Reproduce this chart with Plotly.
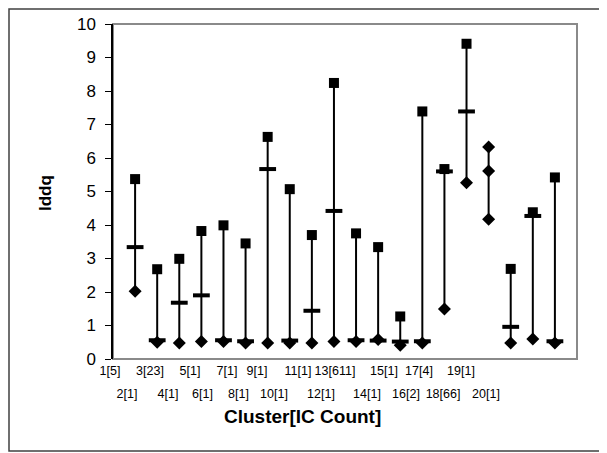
import plotly.graph_objects as go

clusters = list(range(1, 21))
tick_labels = ["1[5]", "2[1]", "3[23]", "4[1]", "5[1]", "6[1]", "7[1]", "8[1]", "9[1]", "10[1]",
               "11[1]", "12[1]", "13[611]", "14[1]", "15[1]", "16[2]", "17[4]", "18[66]", "19[1]", "20[1]"]
iddq_high = [5.37, 2.68, 2.99, 3.82, 3.99, 3.45, 6.63, 5.07, 3.70, 8.24,
             3.75, 3.34, 1.27, 7.39, 5.67, 9.41, 6.33, 2.69, 4.38, 5.42]
iddq_mid = [3.34, 0.56, 1.68, 1.90, 0.56, 0.53, 5.67, 0.55, 1.44, 4.42,
            0.56, 0.55, 0.52, 0.53, 5.60, 7.39, 5.61, 0.96, 4.27, 0.53]
iddq_low = [2.02, 0.50, 0.48, 0.52, 0.52, 0.48, 0.48, 0.48, 0.48, 0.52,
            0.52, 0.58, 0.41, 0.48, 1.49, 5.26, 4.17, 0.48, 0.60, 0.48]

FONT = "Arial, Liberation Sans, sans-serif"

# styles
high_sym = ["square"] * 20
mid_sym = ["line-ew"] * 20
high_sym[16] = "diamond"
mid_sym[16] = "diamond"
mid_size = [12 if s == "line-ew" else 10 for s in mid_sym]
mid_lw = [4 if s == "line-ew" else 0 for s in mid_sym]

# layout: horizontal pixel centres of the staggered category labels (reference page px)
label_px = [110, 127, 150, 168, 190, 202.5, 227, 238.5, 257, 274,
            298, 321, 335, 367, 384, 406, 419, 443, 461, 486]

# high-low connecting lines built from the data
lx, ly = [], []
for c, h, m, l in zip(clusters, iddq_high, iddq_mid, iddq_low):
    lx += [c, c, None]
    ly += [min(h, m, l), max(h, m, l), None]

fig = go.Figure()
fig.add_trace(go.Scatter(x=lx, y=ly, mode="lines", line=dict(color="black", width=2),
                         hoverinfo="skip", showlegend=False))
fig.add_trace(go.Scatter(x=clusters, y=iddq_low, mode="markers", showlegend=False,
                         marker=dict(symbol="diamond", size=10, color="black", opacity=1)))
fig.add_trace(go.Scatter(x=clusters, y=iddq_high, mode="markers", showlegend=False,
                         marker=dict(symbol=high_sym, size=10, color="black", opacity=1)))
fig.add_trace(go.Scatter(x=clusters, y=iddq_mid, mode="markers", showlegend=False,
                         marker=dict(symbol=mid_sym, size=mid_size, color="black", opacity=1,
                                     line=dict(color="black", width=mid_lw))))
# invisible traces to create the label axes subplots
fig.add_trace(go.Scatter(x=[None], y=[None], xaxis="x2", yaxis="y", showlegend=False, hoverinfo="skip"))
fig.add_trace(go.Scatter(x=[None], y=[None], xaxis="x3", yaxis="y", showlegend=False, hoverinfo="skip"))

# pixel geometry (reference coordinates; page places the figure 8px in)
OFF = 8
W, H = 607, 453
plot_left, plot_right, plot_top, plot_bottom = 113, 577, 24, 359  # reference px
paper_left = 90  # reference px
ml = paper_left - OFF
mr = W - (plot_right - OFF)
mt = plot_top - OFF
mb = H - (plot_bottom - OFF)
pw = W - ml - mr
ph = H - mt - mb
dom0 = (plot_left - paper_left) / pw


def px_x(p):
    return (p - paper_left) / pw


def px_y(p):
    return (plot_bottom - p) / ph


odd_idx = [i for i, c in enumerate(clusters) if c % 2 == 1]
even_idx = [i for i, c in enumerate(clusters) if c % 2 == 0]

label_axis = dict(domain=[0, 1], anchor="y", range=[paper_left, plot_right], automargin=False,
                  tickfont=dict(size=12.5, family=FONT), ticks="", showgrid=False,
                  zeroline=False, showline=False)

fig.update_layout(
    width=W, height=H,
    margin=dict(l=ml, r=mr, t=mt, b=mb, autoexpand=False),
    paper_bgcolor="white", plot_bgcolor="rgba(0,0,0,0)",
    font=dict(family=FONT, color="black"),
    xaxis=dict(domain=[dom0, 1], range=[0, 21], showticklabels=False, ticks="", automargin=False,
               showgrid=False, zeroline=False, showline=False),
    yaxis=dict(range=[0, 10], dtick=1, ticks="outside", ticklen=6, tickwidth=1, tickcolor="black",
               showgrid=False, zeroline=False, showline=True, linecolor="black", linewidth=1.5,
               tickfont=dict(size=17, family=FONT), ticklabelstandoff=6, automargin=False),
    xaxis2=dict(label_axis, tickvals=[label_px[i] for i in odd_idx],
                ticktext=[tick_labels[i] for i in odd_idx], ticklabelstandoff=2),
    xaxis3=dict(label_axis, tickvals=[label_px[i] for i in even_idx],
                ticktext=[tick_labels[i] for i in even_idx], ticklabelstandoff=25),
    shapes=[
        dict(type="rect", xref="x domain", yref="y domain", x0=0, x1=1, y0=0, y1=1,
             line=dict(color="#8a8a8a", width=2), layer="below"),
        dict(type="rect", xref="paper", yref="paper",
             x0=px_x(OFF + 1), x1=px_x(W + 20), y0=px_y(451), y1=px_y(OFF + 1),
             line=dict(color="#404040", width=1.5), layer="below"),
    ],
    annotations=[
        dict(text="<b>Iddq</b>", xref="paper", yref="paper", x=px_x(45), y=px_y(193),
             showarrow=False, textangle=-90, font=dict(size=17, family=FONT),
             xanchor="center", yanchor="middle"),
        dict(text="<b>Cluster[IC Count]</b>", xref="paper", yref="paper", x=px_x(302),
             y=px_y(416), showarrow=False, font=dict(size=19, family=FONT),
             xanchor="center", yanchor="middle"),
    ],
)

fig.write_html("out.html")
